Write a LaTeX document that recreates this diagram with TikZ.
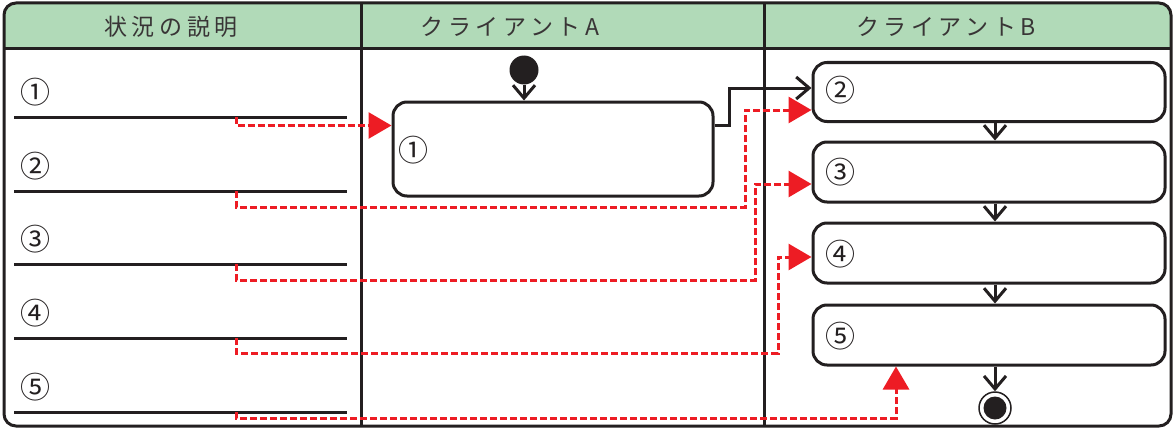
\documentclass[tikz,border=0pt]{standalone}
\usepackage{fontspec}
\setmainfont{Noto Sans CJK JP}
\newfontfamily\hdrfont[LetterSpace=20]{Noto Sans CJK JP}
\usetikzlibrary{arrows.meta,calc}
\definecolor{hdrgreen}{HTML}{B1DAB8}
\definecolor{redc}{HTML}{ED1C24}
\definecolor{blk}{HTML}{231F20}
\tikzset{
  hdr/.style={font=\hdrfont\fontsize{23}{26}\selectfont, text=blk!90},
  num/.style={font=\fontsize{30}{32}\selectfont, text=blk, inner sep=0pt},
  actbox/.style={draw=blk, line width=3pt, rounded corners=14pt, fill=white, inner sep=0pt},
  blkarr/.style={draw=blk, line width=3pt, -{Straight Barb[length=13pt,width=22pt,line width=3pt]}},
  redarr/.style={draw=redc, line width=3pt, dash pattern=on 7pt off 3pt, -{Triangle[length=23pt,width=26pt]}, fill=none},
  sepline/.style={draw=blk, line width=3pt},
}
\begin{document}
\begin{tikzpicture}[x=1pt,y=-1pt]
\useasboundingbox (0,0) rectangle (1174,428);
% header background
\begin{scope}
  \clip[rounded corners=12pt] (4,3) rectangle (1171,426);
  \fill[hdrgreen] (0,0) rectangle (1174,49);
\end{scope}
\draw[sepline] (4,49) -- (1171,49);
\draw[sepline] (361,3) -- (361,426);
\draw[sepline] (764,3) -- (764,426);
\draw[draw=blk, line width=3pt, rounded corners=12pt] (4,3) rectangle (1171,426);
% headers
\node[hdr] (h0) at (171,27) {状況の説明};
\node[hdr] (h1) at (510,27) {クライアントA};
\node[hdr] (h2) at (946,27) {クライアントB};
% left column
\foreach \i/\n/\y in {1/①/117,2/②/191,3/③/264,4/④/338,5/⑤/412}{
  \node[num] (n\i) at (35,\y-25) {\n};
  \draw[sepline] (14,\y) -- (347,\y);
  \coordinate (s\i) at (236,\y);
}
% client A
\node[circle, fill=blk, minimum size=29pt, inner sep=0pt] (init) at (524,70) {};
\node[actbox, minimum width=320pt, minimum height=94pt] (b1) at (553,149) {};
\node[num] (l1) at (413,150) {①};
% client B
\node[actbox, minimum width=352pt, minimum height=59pt] (b2) at (989,92) {};
\node[actbox, minimum width=352pt, minimum height=60pt] (b3) at (989,172) {};
\node[actbox, minimum width=352pt, minimum height=60pt] (b4) at (989,253) {};
\node[actbox, minimum width=352pt, minimum height=60pt] (b5) at (989,335) {};
\node[num] (l2) at (840,90) {②};
\node[num] (l3) at (840,172) {③};
\node[num] (l4) at (840,254) {④};
\node[num] (l5) at (840,336) {⑤};
\node[circle, draw=blk, line width=1.5pt, minimum size=32pt, inner sep=0pt] (fin) at (995,408) {};
\node[circle, fill=blk, minimum size=23pt, inner sep=0pt] (finin) at (995,408) {};
% black arrows
\draw[blkarr] (init.south) -- (b1.north -| init);
\draw[blkarr] ($(b1.north east)+(0,25)$) -- ++(15,0) |- ($(b2.west)+(0,-4)$);
\draw[blkarr] (b2.south -| fin) -- (b3.north -| fin);
\draw[blkarr] (b3.south -| fin) -- (b4.north -| fin);
\draw[blkarr] (b4.south -| fin) -- (b5.north -| fin);
\draw[blkarr] (b5.south -| fin) -- (fin.north);
% red connectors
\coordinate (k2) at (745,207);
\coordinate (k3) at (755,280);
\coordinate (k4) at (778,353);
\coordinate (k5) at (896,418);
\draw[redarr] (s1) |- ($(b1.north west)+(0,25)$);
\draw[redarr] (s2) |- (k2) |- ($(b2.west)+(0,18)$);
\draw[redarr] (s3) |- (k3) |- ($(b3.west)+(0,12)$);
\draw[redarr] (s4) |- (k4) |- ($(b4.west)+(0,4)$);
\draw[redarr] (s5) |- (k5) -- (k5 |- b5.south);
\end{tikzpicture}
\end{document}
